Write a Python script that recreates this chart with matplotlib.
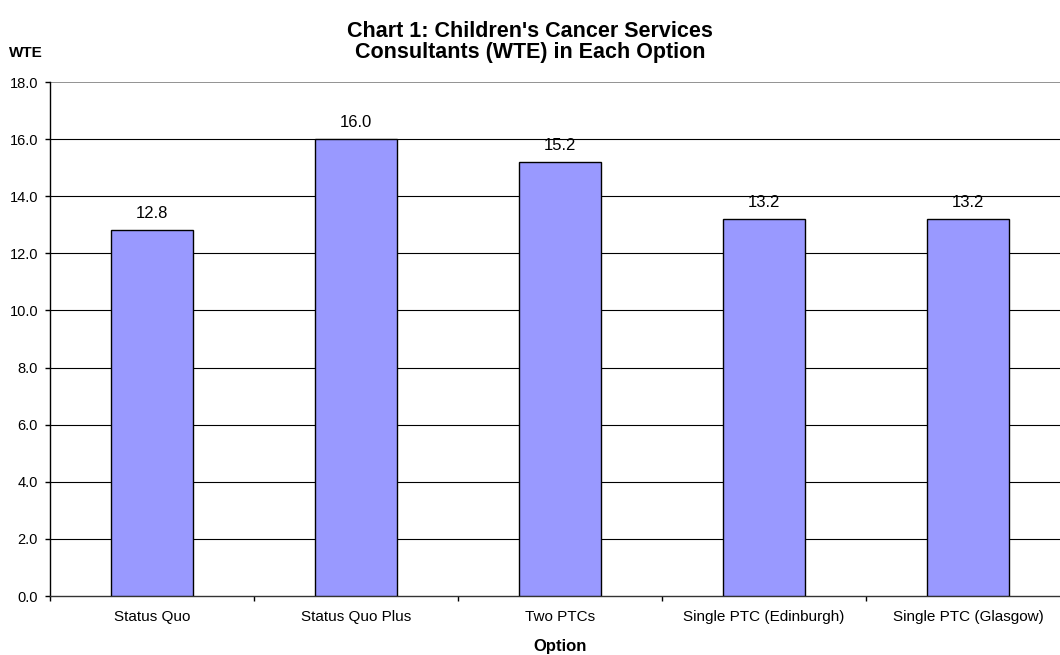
import matplotlib
matplotlib.use("Agg")
import matplotlib.pyplot as plt
import numpy as np

plt.rcParams['font.family'] = ['Liberation Sans', 'DejaVu Sans']

categories = ["Status Quo", "Status Quo Plus", "Two PTCs",
              "Single PTC (Edinburgh)", "Single PTC (Glasgow)"]
values = [12.8, 16.0, 15.2, 13.2, 13.2]
y_ticks = [0, 2, 4, 6, 8, 10, 12, 14, 16, 18]

W, H = 1060, 655
fig = plt.figure(figsize=(W / 100, H / 100), dpi=100)
# plot area runs past the right edge of the canvas
ax = fig.add_axes([50 / W, (H - 596) / H, 1020 / W, 514 / H])

x = np.arange(len(categories))
ax.bar(x, values, width=0.40, color="#9999FF", edgecolor="black",
       linewidth=1.0, zorder=3)

for xi, v in zip(x, values):
    ax.text(xi, v + 0.42, f"{v:.1f}", ha="center", va="baseline", fontsize=12)

ax.set_xlim(-0.5, len(categories) - 0.5)
ax.set_ylim(0, 18)
ax.set_yticks(y_ticks)
ax.set_yticklabels([f"{t:.1f}" for t in y_ticks], fontsize=10.5)

# horizontal gridlines
for t in y_ticks[1:-1]:
    ax.axhline(t, color="black", linewidth=0.8, zorder=1)
ax.axhline(18, color="#808080", linewidth=1.2, zorder=1)

ax.set_xticks(x)
ax.set_xticklabels(categories, fontsize=11)
ax.tick_params(axis="x", length=0, pad=10)
ax.set_xticks(np.arange(-0.5, len(categories)), minor=True)
ax.tick_params(axis="x", which="minor", length=3.6, direction="out", width=1)
ax.tick_params(axis="y", length=3.6, direction="out", width=1, pad=5)

for side in ["top", "right"]:
    ax.spines[side].set_visible(False)
ax.spines["left"].set_linewidth(1.0)
ax.spines["bottom"].set_linewidth(1.0)
ax.spines["bottom"].set_color("#333333")

fig.text(560 / W, 1 - 651 / H, "Option", ha="center", va="baseline",
         fontsize=12, fontweight="bold")
fig.text(530 / W, 1 - 37 / H, "Chart 1: Children's Cancer Services",
         ha="center", va="baseline", fontsize=15.5, fontweight="bold")
fig.text(530 / W, 1 - 58 / H, "Consultants (WTE) in Each Option",
         ha="center", va="baseline", fontsize=15.5, fontweight="bold")
fig.text(9 / W, 1 - 57 / H, "WTE", ha="left", va="baseline",
         fontsize=11, fontweight="bold")

fig.savefig("out.png", dpi=100, facecolor="white")
